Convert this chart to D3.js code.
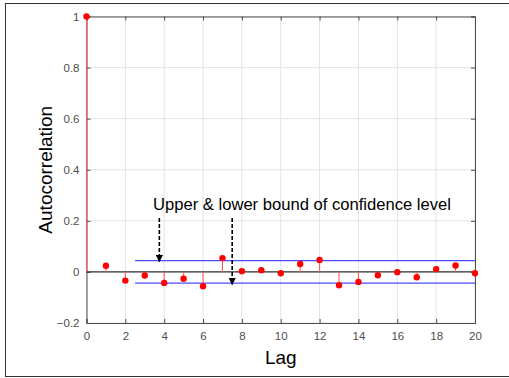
<!DOCTYPE html>
<html lang="en">
<head>
<meta charset="utf-8">
<title>ACF</title>
<script src="https://d3js.org/d3.v7.min.js"></script>
<style>
  body { margin: 0; background: #fff; }
  text { font-family: Arial, "Liberation Sans", sans-serif; }
</style>
</head>
<body>
<script>
var lags = d3.range(0, 21);
var acf = [1, 0.024, -0.034, -0.014, -0.043, -0.027, -0.056, 0.054, 0.003, 0.007,
           -0.005, 0.031, 0.047, -0.052, -0.039, -0.013, -0.001, -0.021, 0.011, 0.025, -0.005];
var bounds = [0.044, -0.044];
var boundLags = [2.5, 20];
var xTicks = [0, 2, 4, 6, 8, 10, 12, 14, 16, 18, 20];
var yTicks = [-0.2, 0, 0.2, 0.4, 0.6, 0.8, 1];
var arrowLags = [3.75, 7.5];
var arrowEnds = [0.045, -0.045];

var width = 509, height = 378;
var pLeft = 86.5, pRight = 475, pTop = 16.5, pBottom = 323;

var svg = d3.select("body").append("svg")
    .attr("width", width)
    .attr("height", height);

// outer frame (right edge runs past the window, as in the source image)
svg.append("rect")
    .attr("x", 5.5).attr("y", 3.5)
    .attr("width", 510).attr("height", 373)
    .attr("fill", "#fff").attr("stroke", "#333").attr("stroke-width", 1);

var x = d3.scaleLinear().domain([0, 20]).range([pLeft, pRight]);
var y = d3.scaleLinear().domain([-0.2, 1]).range([pBottom, pTop]);

// grid
svg.append("g").selectAll("line").data(xTicks).enter().append("line")
    .attr("x1", d => x(d)).attr("x2", d => x(d))
    .attr("y1", pTop).attr("y2", pBottom)
    .attr("stroke", "#e3e3e3");
svg.append("g").selectAll("line").data(yTicks).enter().append("line")
    .attr("x1", pLeft).attr("x2", pRight)
    .attr("y1", d => y(d)).attr("y2", d => y(d))
    .attr("stroke", "#e3e3e3");

// axes
svg.append("g")
    .attr("transform", "translate(0," + pBottom + ")")
    .call(d3.axisBottom(x).tickValues(xTicks).tickSize(-4).tickPadding(9).tickFormat(d3.format("")));
svg.append("g")
    .attr("transform", "translate(" + pLeft + ",0)")
    .call(d3.axisLeft(y).tickValues(yTicks).tickSize(-4).tickPadding(7).tickFormat(d => d === 0 ? "0" : d3.format("")(d)));
svg.append("g")
    .attr("transform", "translate(0," + pTop + ")")
    .call(d3.axisTop(x).tickValues(xTicks).tickSize(-4).tickFormat(""));
svg.append("g")
    .attr("transform", "translate(" + pRight + ",0)")
    .call(d3.axisRight(y).tickValues(yTicks).tickSize(-4).tickFormat(""));

svg.selectAll(".domain").attr("stroke", "#4d4d4d");
svg.selectAll(".tick line").attr("stroke", "#4d4d4d");
svg.selectAll(".tick text").attr("fill", "#4d4d4d").style("font-size", "11.5px")
    .style("font-family", "Arial, 'Liberation Sans', sans-serif");

// zero line
svg.append("line")
    .attr("x1", x(0)).attr("x2", x(20))
    .attr("y1", y(0)).attr("y2", y(0))
    .attr("stroke", "#333").attr("stroke-width", 1.3);

// confidence bounds
svg.append("g").selectAll("line").data(bounds).enter().append("line")
    .attr("x1", x(boundLags[0])).attr("x2", x(boundLags[1]))
    .attr("y1", d => y(d)).attr("y2", d => y(d))
    .attr("stroke", "#4a4aff").attr("stroke-width", 1.2);

// stems
svg.append("g").selectAll("line").data(lags).enter().append("line")
    .attr("x1", d => x(d)).attr("x2", d => x(d))
    .attr("y1", y(0)).attr("y2", (d, i) => y(acf[i]))
    .attr("stroke", "#ff5a5a").attr("stroke-width", 1.1);

svg.append("g").selectAll("circle").data(lags).enter().append("circle")
    .attr("cx", d => x(d)).attr("cy", (d, i) => y(acf[i]))
    .attr("r", 3.2)
    .attr("fill", "#ff0000");

// annotation
svg.append("text")
    .attr("x", 153).attr("y", 210)
    .style("font-size", "16.6px").attr("fill", "#000")
    .text("Upper & lower bound of confidence level");

var defs = svg.append("defs");
defs.append("marker")
    .attr("id", "ah").attr("viewBox", "0 0 10 10")
    .attr("refX", 9).attr("refY", 5)
    .attr("markerWidth", 4.5).attr("markerHeight", 4.5)
    .attr("orient", "auto")
    .append("path").attr("d", "M0,0 L10,5 L0,10 z").attr("fill", "#000");

svg.append("g").selectAll("line").data(arrowLags).enter().append("line")
    .attr("x1", d => x(d)).attr("x2", d => x(d))
    .attr("y1", 218).attr("y2", (d, i) => y(arrowEnds[i]) + 1)
    .attr("stroke", "#000").attr("stroke-width", 1.6)
    .attr("stroke-dasharray", "4,2")
    .attr("marker-end", "url(#ah)");

// axis labels
svg.append("text")
    .attr("transform", "translate(52," + ((pTop + pBottom) / 2) + ") rotate(-90)")
    .attr("text-anchor", "middle")
    .style("font-size", "19px")
    .text("Autocorrelation");
svg.append("text")
    .attr("x", (pLeft + pRight) / 2).attr("y", 364)
    .attr("text-anchor", "middle")
    .style("font-size", "19px")
    .text("Lag");
</script>
</body>
</html>
